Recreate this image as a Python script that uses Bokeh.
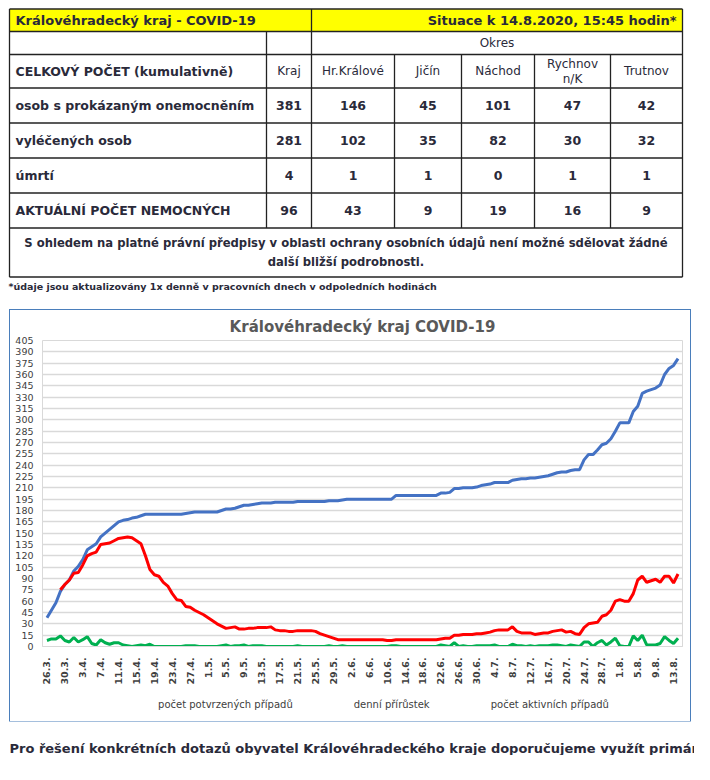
import math
from bokeh.plotting import figure
from bokeh.layouts import column, row, Spacer
from bokeh.models import FixedTicker, Legend, ColumnDataSource
from bokeh.core.properties import value
from bokeh.embed import file_html
from bokeh.resources import INLINE

# ---------------- table data ----------------
table_title_left = "Královéhradecký kraj - COVID-19"
table_title_right = "Situace k 14.8.2020, 15:45 hodin*"
col_headers = ["Kraj", "Hr.Králové", "Jičín", "Náchod", "Rychnov\nn/K", "Trutnov"]
row_labels = ["osob s prokázaným onemocněním", "vyléčených osob", "úmrtí", "AKTUÁLNÍ POČET NEMOCNÝCH"]
values = [
    [381, 146, 45, 101, 47, 42],
    [281, 102, 35, 82, 30, 32],
    [4, 1, 1, 0, 1, 1],
    [96, 43, 9, 19, 16, 9],
]
note_text = "S ohledem na platné právní předpisy v oblasti ochrany osobních údajů není možné sdělovat žádné\ndalší bližší podrobnosti."
footnote = "*údaje jsou aktualizovány 1x denně v pracovních dnech v odpoledních hodinách"
bottom_text = "Pro řešení konkrétních dotazů obyvatel Královéhradeckého kraje doporučujeme využít primárn"

# ---------------- chart data ----------------
chart_title = "Královéhradecký kraj COVID-19"
series_names = ["počet potvrzených případů", "denní přírůstek", "počet aktivních případů"]
months = [(3, range(26, 32)), (4, range(1, 31)), (5, range(1, 32)), (6, range(1, 31)), (7, range(1, 32)), (8, range(1, 15))]
dates = [f"{d}.{m}." for m, rng in months for d in rng]

confirmed = [
    38, 48, 58, 73, 82, 88,
    100, 106, 115, 128, 132, 136, 145, 150, 155, 160, 165, 167, 168, 170, 171, 173, 175, 175, 175, 175, 175, 175, 175, 175, 175, 176, 177, 178, 178, 178,
    178, 178, 178, 180, 182, 182, 183, 185, 187, 187, 188, 189, 190, 190, 190, 191, 191, 191, 191, 191, 192, 192, 192, 192, 192, 192, 192, 193, 193, 193, 194,
    195, 195, 195, 195, 195, 195, 195, 195, 195, 195, 195, 200, 200, 200, 200, 200, 200, 200, 200, 200, 200, 203, 203, 204, 209, 209, 210, 210, 210, 211,
    213, 214, 215, 217, 217, 217, 217, 220, 221, 222, 222, 223, 223, 224, 225, 226, 228, 230, 231, 231, 233, 234, 234, 247, 254, 254, 260, 267, 269, 275, 285,
    296, 296, 296, 311, 318, 335, 338, 340, 342, 346, 360, 368, 372, 381,
]
daily = [
    8, 10, 10, 14, 8, 6,
    12, 6, 9, 13, 4, 2, 9, 5, 3, 5, 5, 2, 1, 0, 1, 2, 1, 3, 0, 0, 0, 0, 0, 0, 0, 1, 1, 1, 0, 0,
    0, 0, 0, 1, 2, 0, 1, 1, 2, 0, 1, 1, 1, 0, 0, 0, 0, 0, 0, 0, 1, 0, 0, 0, 0, 0, 0, 1, 0, 0, 1,
    0, 0, 0, 0, 0, 0, 0, 0, 0, 0, 1, 1, 0, 0, 0, 0, 0, 0, 0, 0, 0, 2, 1, 0, 5, 0, 1, 0, 0, 1,
    1, 1, 1, 2, 0, 0, 0, 3, 1, 1, 0, 1, 0, 1, 1, 1, 2, 2, 1, 0, 2, 1, 0, 6, 6, 0, 5, 8, 2, 6, 11,
    1, 0, 0, 14, 8, 15, 2, 2, 2, 4, 13, 8, 4, 11,
]
nan = float("nan")
active = [
    nan, nan, nan, 75, 82, 88,
    97, 98, 108, 120, 123, 125, 135, 136, 137, 140, 143, 144, 145, 144, 140, 136, 120, 102, 95, 93, 85, 80, 70, 62, 61, 53, 52, 48, 45, 42,
    38, 34, 30, 27, 24, 25, 26, 23, 23, 24, 24, 25, 25, 25, 26, 22, 21, 21, 20, 20, 21, 21, 21, 21, 20, 17, 15, 13, 11, 9, 9,
    9, 9, 9, 9, 9, 9, 9, 9, 9, 8, 8, 9, 9, 9, 9, 9, 9, 9, 9, 9, 9, 10, 11, 11, 15, 15, 16, 16, 16, 17,
    17, 18, 19, 21, 22, 22, 22, 26, 20, 18, 18, 18, 16, 17, 18, 18, 20, 21, 22, 19, 20, 17, 16, 25, 30, 31, 32, 40, 42, 48, 60,
    62, 60, 60, 70, 88, 93, 85, 87, 89, 85, 93, 93, 84, 96,
]
y_ticks = list(range(0, 406, 15))
line_colors = ["#4472c4", "#00b050", "#ff0000"]

TXT = "#2a2a3a"
FONT = "DejaVu Sans"

# ---------------- table figure ----------------
col_edges = [9, 266, 311, 394, 461, 534, 610, 682]
row_edges = [8.5, 31, 54, 87.5, 122.5, 157.5, 192.5, 227.5, 276.5]

t = figure(width=694, height=310, x_range=(0, 694), y_range=(310, 0), output_backend="svg",
           toolbar_location=None, min_border=0)
t.axis.visible = False
t.grid.visible = False
t.outline_line_color = None

L, R = col_edges[0], col_edges[-1]
t.quad(left=[L], right=[R], top=[row_edges[0]], bottom=[row_edges[1]], fill_color="#ffff00", line_color=None)
n = len(row_edges)
t.segment(x0=[L] * n, x1=[R] * n, y0=row_edges, y1=row_edges, line_color="#222", line_width=1.3)
t.segment(x0=[L, R], x1=[L, R], y0=[row_edges[0]] * 2, y1=[row_edges[-1]] * 2, line_color="#222", line_width=1.3)
t.segment(x0=[col_edges[2]], x1=[col_edges[2]], y0=[row_edges[0]], y1=[row_edges[7]], line_color="#222", line_width=1.3)
t.segment(x0=[col_edges[1]], x1=[col_edges[1]], y0=[row_edges[1]], y1=[row_edges[7]], line_color="#222", line_width=1.3)
xs_inner = col_edges[3:-1]
t.segment(x0=xs_inner, x1=xs_inner, y0=[row_edges[2]] * len(xs_inner), y1=[row_edges[7]] * len(xs_inner),
          line_color="#222", line_width=1.3)

t.text(x=[L + 6], y=[(row_edges[0] + row_edges[1]) / 2], text=[table_title_left], text_font=value(FONT),
       text_font_size="13px", text_font_style="bold", text_color=TXT, text_baseline="middle")
t.text(x=[R - 6], y=[(row_edges[0] + row_edges[1]) / 2], text=[table_title_right], text_font=value(FONT),
       text_font_size="13px", text_font_style="bold", text_color=TXT, text_baseline="middle", text_align="right")
t.text(x=[(col_edges[2] + R) / 2], y=[(row_edges[1] + row_edges[2]) / 2], text=["Okres"], text_font=value(FONT),
       text_font_size="12px", text_color=TXT, text_baseline="middle", text_align="center")
hy = (row_edges[2] + row_edges[3]) / 2
t.text(x=[L + 6], y=[hy], text=["CELKOVÝ POČET (kumulativně)"], text_font=value(FONT),
       text_font_size="12.5px", text_font_style="bold", text_color=TXT, text_baseline="middle")
cx = [(col_edges[i + 1] + col_edges[i + 2]) / 2 for i in range(6)]
t.text(x=cx, y=[hy] * 6, text=col_headers, text_font=value(FONT), text_font_size="12px", text_color=TXT,
       text_baseline="middle", text_align="center", text_line_height=1.1)
for r, (lab, vals) in enumerate(zip(row_labels, values)):
    yy = (row_edges[3 + r] + row_edges[4 + r]) / 2
    t.text(x=[L + 6], y=[yy], text=[lab], text_font=value(FONT), text_font_size="12.5px",
           text_font_style="bold", text_color=TXT, text_baseline="middle")
    t.text(x=cx, y=[yy] * 6, text=[str(v) for v in vals], text_font=value(FONT), text_font_size="12.5px",
           text_font_style="bold", text_color=TXT, text_baseline="middle", text_align="center")
t.text(x=[(L + R) / 2], y=[(row_edges[7] + row_edges[8]) / 2], text=[note_text], text_font=value(FONT),
       text_font_size="11.6px", text_font_style="bold", text_color=TXT, text_baseline="middle",
       text_align="center", text_line_height=1.3)
t.text(x=[L - 1], y=[row_edges[8] + 9], text=[footnote], text_font=value(FONT), text_font_size="9.5px",
       text_font_style="bold", text_color=TXT, text_baseline="middle")

# ---------------- chart figure ----------------
x = list(range(len(dates)))
src = ColumnDataSource(dict(x=x, c=confirmed, d=daily, a=active))
p = figure(frame_width=640, frame_height=306, x_range=(-1, len(dates)), y_range=(0, 405), output_backend="svg",
           toolbar_location=None, min_border_left=32, min_border_right=8, min_border_top=8,
           min_border_bottom=4, title=chart_title)
p.title.align = "center"
p.title.text_font = FONT
p.title.text_font_size = "15px"
p.title.text_color = "#595959"
p.title.text_font_style = "bold"
p.outline_line_color = "#d9d9d9"
for col, colr in zip(["c", "d", "a"], line_colors):
    p.line("x", col, source=src, line_color=colr, line_width=3)
p.yaxis.ticker = FixedTicker(ticks=y_ticks)
p.xaxis.ticker = FixedTicker(ticks=x[::4])
p.xaxis.major_label_overrides = {i: dates[i] for i in x[::4]}
p.xaxis.major_label_orientation = math.pi / 2
p.xaxis.major_label_text_font_style = "bold"
for ax in (p.xaxis, p.yaxis):
    ax.major_label_text_font = FONT
    ax.major_label_text_font_size = "9.5px"
    ax.major_label_text_color = "#404040"
    ax.major_tick_line_color = None
    ax.minor_tick_line_color = None
p.yaxis.axis_line_color = None
p.yaxis.major_label_standoff = 3
p.xaxis.axis_line_color = "#d9d9d9"
p.xgrid.grid_line_color = None
p.ygrid.grid_line_color = "#d9d9d9"
p.ygrid.grid_line_width = 1.5

# legend in its own strip
lf = figure(width=p.frame_width + 40, height=34, x_range=(0, 1), y_range=(0, 1), output_backend="svg",
            toolbar_location=None, min_border=0)
lf.axis.visible = False
lf.grid.visible = False
lf.outline_line_color = None
rs = [lf.line(x=[], y=[], line_color=c, line_width=3) for c in line_colors]
leg = Legend(items=[(nm, [rr]) for nm, rr in zip(series_names, rs)],
             orientation="horizontal", location="center", border_line_color=None, label_text_font=FONT,
             label_text_font_size="10px", label_text_color="#404040", glyph_width=38, spacing=18,
             padding=2, margin=0, background_fill_alpha=0)
lf.add_layout(leg, "center")

chart_box = column(p, lf, spacing=0)
chart_box.styles = {"outline": "1px solid #4a7ebb", "background": "white"}

# ---------------- bottom text ----------------
b = figure(width=694, height=34, x_range=(0, 694), y_range=(34, 0), output_backend="svg",
           toolbar_location=None, min_border=0)
b.axis.visible = False
b.grid.visible = False
b.outline_line_color = None
b.text(x=[9], y=[27], text=[bottom_text], text_font=value(FONT), text_font_size="13px",
       text_font_style="bold", text_color=TXT, text_baseline="middle")

layout = column(t, row(Spacer(width=10), chart_box), b, spacing=0)
open("out.html", "w").write(file_html(layout, INLINE))
